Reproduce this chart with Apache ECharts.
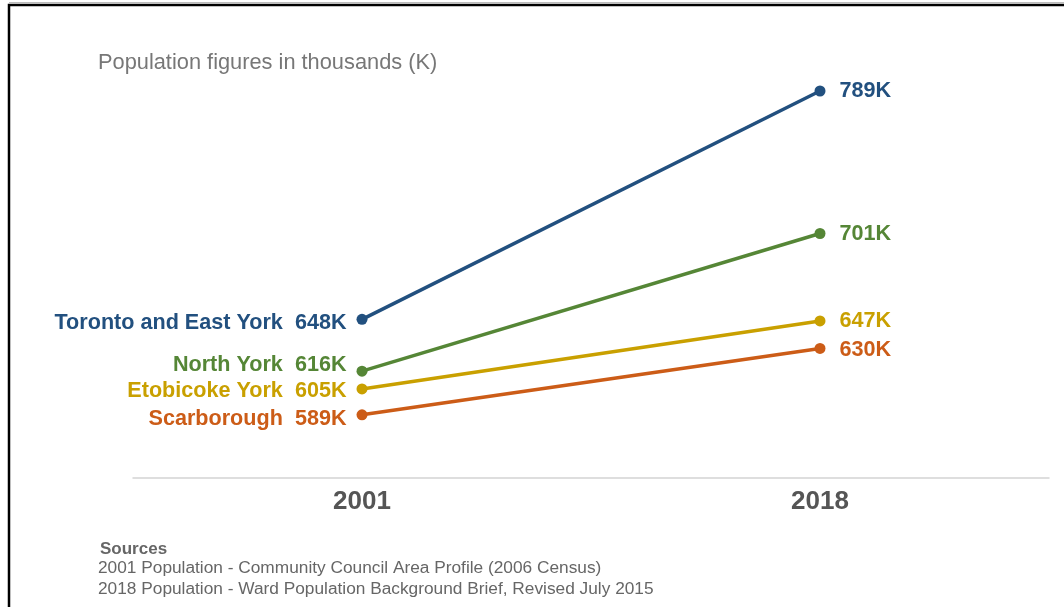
<!DOCTYPE html>
<html>
<head>
<meta charset="utf-8">
<script src="https://cdn.jsdelivr.net/npm/echarts@6/dist/echarts.min.js"></script>
<style>
html,body{margin:0;padding:0;background:#fff;}
#c{width:1064px;height:607px;}
</style>
</head>
<body>
<div id="c"></div>
<script>
const years = ['2001', '2018'];
const regions = ['Toronto and East York', 'North York', 'Etobicoke York', 'Scarborough'];
const toronto = [648, 789];
const northYork = [616, 701];
const etobicoke = [605, 647];
const scarborough = [589, 630];
const colors = ['#22507f', '#558636', '#c9a000', '#cc5c17'];
const subtitle = 'Population figures in thousands (K)';
const sourcesTitle = 'Sources';
const sourceLines = [
  '2001 Population - Community Council Area Profile (2006 Census)',
  '2018 Population - Ward Population Background Brief, Revised July 2015'
];

const seriesValues = [toronto, northYork, etobicoke, scarborough];
const leftOffsets = [[0, 4], [0, -6], [0, 2], [0, 4]];
const rightOffsets = [[0, 0], [0, 1], [0, 0], [0, 2]];

const font = '"Liberation Sans", Arial, sans-serif';

const chart = echarts.init(document.getElementById('c'));
chart.setOption({
  animation: false,
  backgroundColor: '#fff',
  grid: { left: 133, right: 15, top: 73.2, bottom: 129 },
  xAxis: {
    type: 'category',
    data: years,
    boundaryGap: true,
    axisLine: { lineStyle: { color: '#d4d4d4', width: 1.5 } },
    axisTick: { show: false },
    axisLabel: {
      margin: 11,
      color: '#555',
      fontSize: 26,
      fontWeight: 'bold',
      fontFamily: '"Liberation Sans Narrow", "Arial Narrow", "Liberation Sans", sans-serif'
    }
  },
  yAxis: {
    type: 'value', min: 550, max: 800,
    show: false,
    splitLine: { show: false }
  },
  series: regions.map((name, i) => ({
    name: name,
    type: 'line',
    symbol: 'circle',
    symbolSize: 11,
    lineStyle: { width: 3.5, color: colors[i] },
    itemStyle: { color: colors[i] },
    data: seriesValues[i].map((v, j) => ({
      value: v,
      label: j === 0 ? {
        show: true, position: 'left', distance: 10, offset: leftOffsets[i],
        formatter: name + '  ' + v + 'K'
      } : {
        show: true, position: 'right', distance: 14, offset: rightOffsets[i],
        formatter: v + 'K'
      }
    })),
    label: {
      color: colors[i],
      fontSize: 21.6,
      fontWeight: 'bold',
      fontFamily: font
    }
  })),
  graphic: [
    {
      type: 'rect', silent: true,
      shape: { x: 9, y: 5, width: 1100, height: 700 },
      style: { fill: 'none', stroke: '#000', lineWidth: 2.5 }
    },
    {
      type: 'rect', silent: true,
      shape: { x: 9, y: 2, width: 1100, height: 1.2 },
      style: { fill: '#bbb' }
    },
    {
      type: 'text', left: 98, top: 52,
      style: { text: subtitle, fill: '#777', fontSize: 21.8, fontFamily: font }
    },
    {
      type: 'text', left: 100, top: 541,
      style: { text: sourcesTitle, fill: '#666', fontSize: 17, fontWeight: 'bold', fontFamily: font }
    },
    {
      type: 'text', left: 98, top: 558,
      style: { text: sourceLines.join('\n'), fill: '#666', fontSize: 17.3, lineHeight: 21, fontFamily: font }
    }
  ]
});
</script>
</body>
</html>
